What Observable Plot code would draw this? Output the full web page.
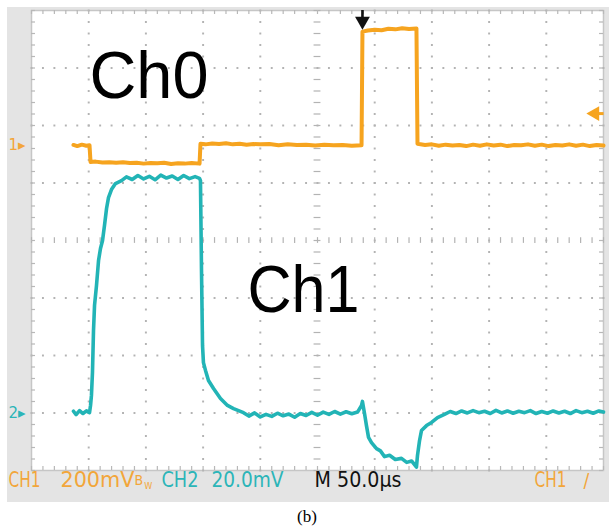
<!DOCTYPE html>
<html><head><meta charset="utf-8">
<script src="https://cdn.jsdelivr.net/npm/d3@7"></script>
<script src="https://cdn.jsdelivr.net/npm/@observablehq/plot@0.6"></script>
<style>
html,body{margin:0;padding:0;background:#fff;}
#chart{width:609px;height:504px;}
#chart svg{display:block;}
#cap{width:609px;height:25px;text-align:center;font-family:"Liberation Serif","Times New Roman",serif;font-size:17px;line-height:25px;color:#000;padding-left:5px;box-sizing:border-box;}
</style></head><body>
<div id="chart"></div>
<div id="cap">(b)</div>
<script>
// ---- Data (time in µs from left edge of screen, voltages in mV relative to each channel's ground marker)
const ch1T = [36.7,40,44,48,50.7, 51.6,56,62,68,74,80,86,92,98,104,110,116,122,128,134,140,146.9, 147.7,152,158,164,170,176,182,188,194,200,208,216,224,232,240,248,256,264,272,280,288.5, 289.3,294,300,306,312,318,324,330,336.5, 337.4,344,350,356,362,368,374,380,386,392,398,404,410,416,422,428,434,440,446,452,458,464,470,476,482,488,494,500];
const ch1V = [2,-2,3,-1,1, -57,-56,-59,-58,-60,-58,-61,-60,-63,-61,-62,-60,-64,-62,-63,-61,-63, 6,4,7,5,8,4,6,3,5,4,5,1,4,2,3,0,3,1,2,-1,1, 396,400,403,401,406,404,408,405,407, 6,2,4,-1,3,0,2,-2,3,-1,4,0,3,-2,2,1,4,-1,3,-2,2,0,4,-1,3,-2,2,0];
const ch2T = [36.7,39,42,45,48,50.7, 51.6,52.4,53.3,54.2,55.1,56.8,58.6,60.3,62.1,63.8,65.6,67.3,69.9,73.4,78.7, 83,88,93,98,103,108,113,118,123,128,133,138,143,146.9, 147.7,148.6,149.5,150.3,152.1,154.7,159.1,165.2,171.3,176.6,185.3, 190,195,200,205,210,215,220,225,230,235,240,245,250,255,260,265,270,275,280,285, 288.5,289.3,291.1,292.8,294.6,297.2,301.6,305,308.6,313,318,323.4,328,332.2,336.5, 337.4,339.2,340.9,345.3,349.7,354.9,361.0, 366,371,376,381,386,391,396,401,406,411,416,421,426,431,436,441,446,451,456,461,466,471,476,481,486,491,496,500];
const ch2V = [0.8,-0.4,1.0,0,0.9,0.3, 2.8,6.3,14.3,28.9,37.6,44.5,53.2,57.4,60.2,65.4,71.3,75.1,77.9,80.0,81.0, 82.3,81.4,82.8,81.6,82.5,81.3,82.9,81.9,82.6,81.4,82.8,81.7,82.4,81.8, 81,49.7,23.6,17.7,15.0,11.5,8.7,5.2,2.8,1.7,0.3, -0.9,0.2,-1.2,-0.3,-1.0,0.1,-0.8,-0.2,-1.3,0.0,-0.7,0.4,-0.6,0.5,-0.3,0.7,-0.2,0.6,-0.1,0.5, 2.8,4.2,0,-4.2,-8.3,-10.1,-12.2,-13.0,-15.0,-14.5,-16.0,-15.6,-17.0,-16.5,-18.6, -14.6,-9.4,-5.9,-4.2,-3.1,-1.4,-0.3, 0.7,0.0,0.9,0.2,1.0,0.3,0.8,0.0,1.1,0.2,0.9,0.1,0.8,0.3,1.0,0.0,0.7,0.1,0.9,0.2,0.8,0.0,1.0,0.3,0.8,0.1,0.9,0.5];

// scope settings
const ch1Scale = 200;    // mV/div
const ch2Scale = 20;     // mV/div
const ch1Ground = 5.652; // screen divisions from bottom
const ch2Ground = 0.991;
const triggerTime = 289.3;  // µs
const triggerLevel = 111;   // mV on CH1

const orange = "#f6a41f", cyan = "#22b4b6", textOrange = "#f2a63a", textCyan = "#2cb5b8";

const ch1 = ch1T.map((t,i)=>({t, d: ch1Ground + ch1V[i]/ch1Scale}));
const ch2 = ch2T.map((t,i)=>({t, d: ch2Ground + ch2V[i]/ch2Scale}));

// graticule
const minorT = d3.range(0, 500.01, 10);
const minorD = d3.range(0, 8.001, 0.2);
const majorT = [50,100,150,200,300,350,400,450];
const majorD = [1,2,3,5,6,7];
const gridDots = [];
for (const t of majorT) for (const d of minorD) gridDots.push({t, d});
for (const d of majorD) for (const t of minorT) gridDots.push({t, d});

const narrow = "'Liberation Sans Narrow','DejaVu Sans Condensed','Arial Narrow',sans-serif";
const footY = -0.28;
const lvl = ch1Ground + triggerLevel/ch1Scale;

const chart = Plot.plot({
  width: 609, height: 504,
  marginLeft: 31, marginRight: 6, marginTop: 10, marginBottom: 34,
  x: {domain: [0, 500], axis: null},
  y: {domain: [0, 8], axis: null},
  style: {background: "linear-gradient(#e4e4e4,#e4e4e4) 7px 7px / 602px 495px no-repeat, #ffffff", overflow: "visible"},
  marks: [
    Plot.frame({fill: "#ffffff", stroke: "#c6c6c6", strokeWidth: 1.5}),
    Plot.dot(gridDots, {x: "t", y: "d", symbol: "square", r: 1.1, fill: "#b3b3b3", stroke: null}),
    // center crosshair ticks
    Plot.ruleY(minorD, {y: d=>d, x1: 247, x2: 253, stroke: "#b3b3b3", strokeWidth: 1.2}),
    Plot.ruleX(minorT, {x: d=>d, y1: 3.95, y2: 4.05, stroke: "#b3b3b3", strokeWidth: 1.2}),
    // border ticks
    Plot.ruleX(minorT, {x: d=>d, y1: 8, y2: 7.93, stroke: "#b8b8b8", strokeWidth: 1.2}),
    Plot.ruleX(minorT, {x: d=>d, y1: 0, y2: 0.07, stroke: "#b8b8b8", strokeWidth: 1.2}),
    Plot.ruleY(minorD, {y: d=>d, x1: 0, x2: 3.5, stroke: "#b8b8b8", strokeWidth: 1.2}),
    Plot.ruleY(minorD, {y: d=>d, x1: 496.5, x2: 500, stroke: "#b8b8b8", strokeWidth: 1.2}),
    // traces
    Plot.line(ch1, {x: "t", y: "d", stroke: orange, strokeWidth: 4, strokeLinejoin: "round"}),
    Plot.line(ch2, {x: "t", y: "d", stroke: cyan, strokeWidth: 3.6, strokeLinejoin: "round"}),
    // trigger position marker (down arrow)
    Plot.ruleX([triggerTime], {x: d=>d, y1: 8.0, y2: 7.86, stroke: "#111", strokeWidth: 2.6}),
    Plot.dot([triggerTime], {x: d=>d, y: 7.815, symbol: "triangle", rotate: 180, r: 5.5, fill: "#111", stroke: null}),
    // trigger level marker (left arrow)
    Plot.ruleY([lvl], {y: d=>d, x1: 494, x2: 500.5, stroke: orange, strokeWidth: 3}),
    Plot.dot([lvl], {x: 492.5, y: d=>d, symbol: "triangle", rotate: -90, r: 5.5, fill: orange, stroke: null}),
    // channel ground markers
    Plot.text(["1▸"], {x: -20.1, y: ch1Ground, text: d=>d, textAnchor: "start", fontSize: 15, fill: textOrange, fontFamily: "'DejaVu Sans',sans-serif"}),
    Plot.text(["2▸"], {x: -20.1, y: ch2Ground, text: d=>d, textAnchor: "start", fontSize: 15, fill: textCyan, fontFamily: "'DejaVu Sans',sans-serif"}),
    // big labels
    Plot.text(["Ch0"], {x: 50.7, y: 6.47, text: d=>d, textAnchor: "start", lineAnchor: "bottom", fontSize: 67, fill: "#000", fontFamily: "'Liberation Sans',Arial,sans-serif"}),
    Plot.text(["Ch1"], {x: 188.8, y: 2.75, text: d=>d, textAnchor: "start", lineAnchor: "bottom", fontSize: 67, fill: "#000", fontFamily: "'Liberation Sans',Arial,sans-serif"}),
    // footer readouts
    Plot.text(["CH1"], {x: -20.1, y: footY, text: d=>d, textAnchor: "start", lineAnchor: "bottom", fontSize: 22, fill: textOrange, fontFamily: narrow}),
    Plot.text(["200mV"], {x: 25.3, y: footY, text: d=>d, textAnchor: "start", lineAnchor: "bottom", fontSize: 22, fill: textOrange, fontFamily: narrow}),
    Plot.text(["B"], {x: 90.0, y: footY + 0.02, text: d=>d, textAnchor: "start", lineAnchor: "bottom", fontSize: 14, fill: textOrange, fontFamily: narrow}),
    Plot.text(["W"], {x: 98.5, y: footY - 0.05, text: d=>d, textAnchor: "start", lineAnchor: "bottom", fontSize: 9, fill: textOrange, fontFamily: narrow}),
    Plot.text(["CH2"], {x: 113.6, y: footY, text: d=>d, textAnchor: "start", lineAnchor: "bottom", fontSize: 22, fill: textCyan, fontFamily: narrow}),
    Plot.text(["20.0mV"], {x: 157.3, y: footY, text: d=>d, textAnchor: "start", lineAnchor: "bottom", fontSize: 22, fill: textCyan, fontFamily: narrow}),
    Plot.text(["M 50.0µs"], {x: 247.4, y: footY, text: d=>d, textAnchor: "start", lineAnchor: "bottom", fontSize: 22, fill: "#111", fontFamily: narrow}),
    Plot.text(["CH1"], {x: 439.7, y: footY, text: d=>d, textAnchor: "start", lineAnchor: "bottom", fontSize: 22, fill: textOrange, fontFamily: narrow}),
    Plot.text(["/"], {x: 482.5, y: footY, text: d=>d, textAnchor: "start", lineAnchor: "bottom", fontSize: 19, fill: textOrange, fontFamily: narrow})
  ]
});

const lengths = {"Ch0": 119, "Ch1": 112, "CH1": 32, "200mV": 74, "CH2": 37, "20.0mV": 72, "M 50.0µs": 87};
d3.select(chart).selectAll("text").each(function(){
  const s = this.textContent;
  if (lengths[s] !== undefined) {
    this.setAttribute("textLength", lengths[s]);
    this.setAttribute("lengthAdjust", "spacingAndGlyphs");
  }
});
document.getElementById("chart").appendChild(chart);
</script>
</body></html>
